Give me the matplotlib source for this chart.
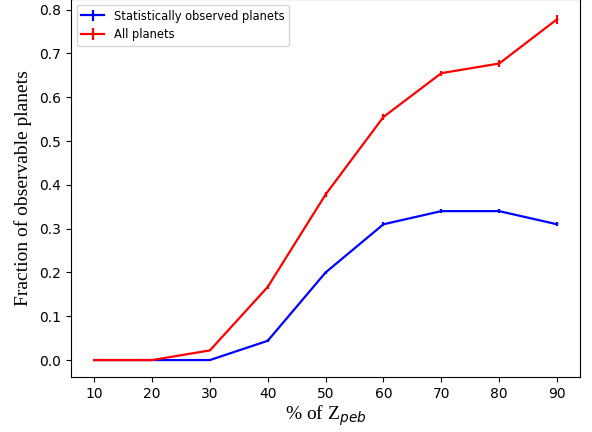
import matplotlib
matplotlib.use("Agg")
import matplotlib.pyplot as plt

zpeb = [10, 20, 30, 40, 50, 60, 70, 80, 90]
observed = [0.0, 0.0, 0.0, 0.044, 0.200, 0.310, 0.340, 0.340, 0.310]
observed_err = [0.0, 0.0, 0.002, 0.003, 0.004, 0.005, 0.005, 0.005, 0.005]
all_planets = [0.0, 0.0, 0.022, 0.167, 0.378, 0.555, 0.655, 0.677, 0.778]
all_err = [0.0, 0.0, 0.002, 0.004, 0.005, 0.006, 0.006, 0.007, 0.010]

fig = plt.figure(figsize=(5.92, 4.32), dpi=100)
ax = fig.add_axes([0.12, 0.127, 0.86, 0.875])

ax.errorbar(zpeb, observed, yerr=observed_err, color="blue", lw=1.6,
            label="Statistically observed planets")
ax.errorbar(zpeb, all_planets, yerr=all_err, color="red", lw=1.6,
            label="All planets")

ax.set_xticks(zpeb)
ax.set_xlim(6, 94)
ax.set_ylim(-0.039, 0.824)
ax.set_yticks([0.0, 0.1, 0.2, 0.3, 0.4, 0.5, 0.6, 0.7, 0.8])
ax.tick_params(labelsize=10)

ax.set_xlabel("% of Z$_{peb}$", family="Liberation Serif", fontsize=14, labelpad=2)
ax.set_ylabel("Fraction of observable planets", family="Liberation Serif",
              fontsize=14, labelpad=5)

ax.legend(loc="upper left", fontsize=8.3)

fig.savefig("out.png", dpi=100)
